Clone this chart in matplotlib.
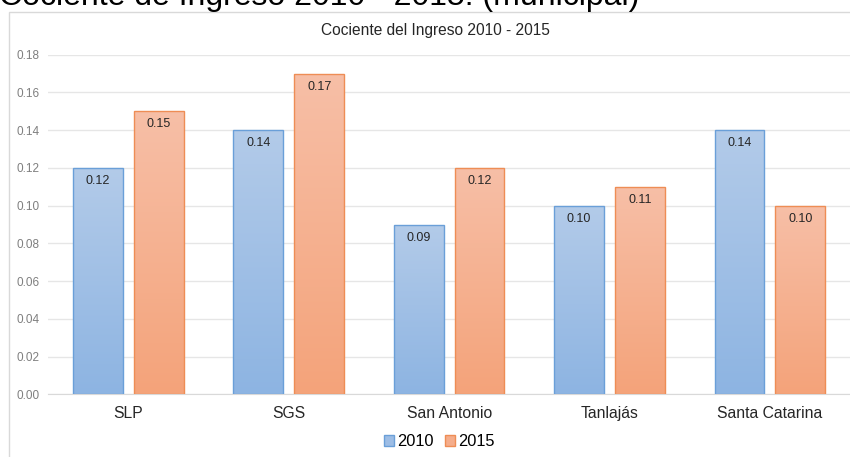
import matplotlib
matplotlib.use("Agg")
import matplotlib.pyplot as plt
import numpy as np
from matplotlib.colors import LinearSegmentedColormap
from matplotlib.patches import Rectangle, Patch

plt.rcParams['font.family'] = ['Liberation Sans', 'DejaVu Sans']

categories = ["SLP", "SGS", "San Antonio", "Tanlajás", "Santa Catarina"]
values_2010 = [0.12, 0.14, 0.09, 0.10, 0.14]
values_2015 = [0.15, 0.17, 0.12, 0.11, 0.10]
series_names = ["2010", "2015"]
yticks = [0.00, 0.02, 0.04, 0.06, 0.08, 0.10, 0.12, 0.14, 0.16, 0.18]

fig = plt.figure(figsize=(8.5, 4.57), dpi=100)
W, H = 850, 457

def fx(px):
    return px / W

def fy(py):
    return 1 - py / H

# outer chart border
fig.patches.append(Rectangle((fx(8.5), -0.05), 1.0, fy(11.5) + 0.05, transform=fig.transFigure,
                             fill=False, edgecolor='#d9d9d9', linewidth=1.0))

# big cut-off title
fig.text(fx(-1), fy(5.5), "Cociente de Ingreso 2010 - 2015. (municipal)", fontsize=23,
         color='black', ha='left', va='baseline')

ax = fig.add_axes([fx(48.3), fy(394.3), fx(850 - 48.3), fy(54.7) - fy(394.3)])
fig.text(fx(435), fy(30), "Cociente del Ingreso 2010 - 2015", fontsize=11.2,
         color='#262626', ha='center', va='center')

x = np.arange(len(categories))
bw = 0.31
gap = 0.07
off = (bw + gap) / 2

blue_cmap = LinearSegmentedColormap.from_list('b', ['#8db4e2', '#b3cbe9'])
orange_cmap = LinearSegmentedColormap.from_list('o', ['#f4a37a', '#f7bfa7'])

grad = np.linspace(0, 1, 256).reshape(-1, 1)

def draw(vals, pos, cmap, edge):
    bars = ax.bar(pos, vals, width=bw, facecolor='none', edgecolor=edge, linewidth=1.0, zorder=3)
    for b, v in zip(bars, vals):
        x0 = b.get_x()
        im = ax.imshow(grad, cmap=cmap, origin='lower', aspect='auto',
                       extent=[x0, x0 + bw, 0, v], zorder=2, interpolation='bilinear')
        im.set_clip_path(b)
        ax.text(x0 + bw / 2, v - 0.0069, f"{v:.2f}", ha='center', va='center',
                fontsize=9, color='#262626', zorder=4)
    return bars

draw(values_2010, x - off, blue_cmap, '#6a9fd8')
draw(values_2015, x + off, orange_cmap, '#ee8d55')

ax.set_xlim(-0.5, len(categories) - 0.5)
ax.set_ylim(0, 0.18)
ax.set_yticks(yticks)
ax.set_yticklabels([f"{t:.2f}" for t in yticks], fontsize=8.5, color='#7f7f7f')
ax.set_xticks(x)
ax.set_xticklabels(categories, fontsize=11.3, color='#262626')
ax.tick_params(axis='both', length=0)
ax.tick_params(axis='y', pad=6)
ax.tick_params(axis='x', pad=8.5)
ax.grid(axis='y', color='#e6e6e6', linewidth=1.0, zorder=0)
ax.set_axisbelow(True)
for s in ['top', 'right', 'left']:
    ax.spines[s].set_visible(False)
ax.spines['bottom'].set_color('#d9d9d9')

handles = [Patch(facecolor='#9dbde5', edgecolor='#6a9fd8'),
           Patch(facecolor='#f5ad8b', edgecolor='#ee8d55')]
fig.legend(handles, series_names, loc='center', bbox_to_anchor=(fx(439), fy(442)),
           ncol=2, frameon=False, fontsize=11.8, handlelength=0.65, handleheight=0.65,
           handletextpad=0.15, columnspacing=0.7, borderpad=0)

fig.savefig("out.png", dpi=100)
